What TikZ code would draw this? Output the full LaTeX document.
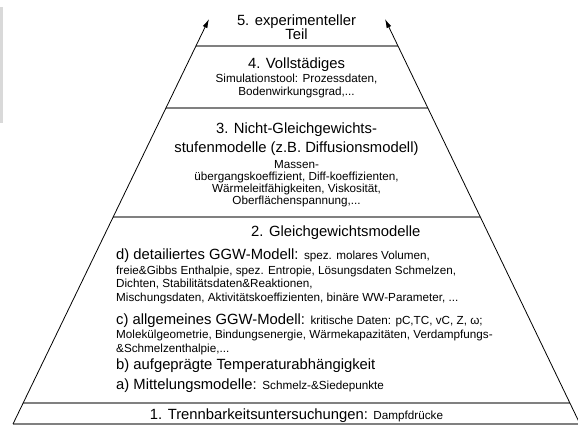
\documentclass[tikz,border=0pt]{standalone}
\usepackage{fontspec}
\setmainfont{Liberation Sans}
\usetikzlibrary{arrows.meta,calc}
\newcommand{\gross}{\fontsize{14.8}{17}\selectfont}
\newcommand{\klein}{\fontsize{11.7}{13.5}\selectfont}

\begin{document}
\begin{tikzpicture}[x=1pt, y=-1pt]
\useasboundingbox (0,0) rectangle (578,426);
\clip (0,0) rectangle (578,426);
\tikzstyle{every node} = [inner sep=0pt]
\tikzstyle{stufe} = [draw=gray, line width=1.5pt]
\tikzstyle{seite} = [draw=black, line width=0.8pt, -{Latex[length=9pt,width=5pt]}]
\fill[gray!30] (0,7) rectangle (3,123);
% Pyramide
\coordinate (bl) at (13,424);
\coordinate (br) at (580,424);
\coordinate (tl) at (209,19);
\coordinate (tr) at (385,19);
\foreach \y in {46,108,217,403}
\draw[stufe] ($(bl)!{(424-\y)/405}!(tl)$) -- ($(br)!{(424-\y)/405}!(tr)$);
\draw[stufe] (bl) -- (br);
\draw[seite] (bl) -- (tl);
\draw[seite] (br) -- (tr);
% 5.
\node[anchor=base, font=\gross] (exp) at (296.5,25) {5. experimenteller};
\node[anchor=base, font=\gross] (teil) at (296.5,39.5) {Teil};
% 4.
\node[anchor=base, font=\gross] (voll) at (296.5,68) {4. Vollstädiges};
\node[anchor=base, font=\klein] (sim) at (296.5,82.4) {Simulationstool: Prozessdaten,};
\node[anchor=base, font=\klein] (boden) at (296.5,95.7) {Bodenwirkungsgrad,...};
% 3.
\node[anchor=base, font=\gross] (ngg) at (296.5,133.7) {3. Nicht-Gleichgewichts-};
\node[anchor=base, font=\gross] (stufen) at (296.5,152.7) {stufenmodelle (z.B. Diffusionsmodell)};
\node[anchor=base, font=\klein] (massen) at (296.5,168.4) {Massen-};
\node[anchor=base, font=\klein] (ueber) at (296.5,180.5) {übergangskoeffizient, Diff-koeffizienten,};
\node[anchor=base, font=\klein] (waerme) at (296.5,192.4) {Wärmeleitfähigkeiten, Viskosität,};
\node[anchor=base, font=\klein] (ober) at (296.5,204.4) {Oberflächenspannung,...};
% 2.
\node[anchor=base west, font=\gross] (ggw) at (251,236) {2. Gleichgewichtsmodelle};
\node[anchor=base west, font=\gross] (dmod) at (116,259.5) {d) detailiertes GGW-Modell: {\klein spez. molares Volumen,}};
\node[anchor=base west, font=\klein] (freie) at (116,274) {freie\&Gibbs Enthalpie, spez. Entropie, Lösungsdaten Schmelzen,};
\node[anchor=base west, font=\klein] (dichten) at (116,287) {Dichten, Stabilitätsdaten\&Reaktionen,};
\node[anchor=base west, font=\klein] (misch) at (116,301) {Mischungsdaten, Aktivitätskoeffizienten, binäre WW-Parameter, ...};
\node[anchor=base west, font=\gross] (cmod) at (116,324) {c) allgemeines GGW-Modell: {\klein kritische Daten: pC,TC, vC, Z, ω;}};
\node[anchor=base west, font=\klein] (molek) at (116,338.5) {Molekülgeometrie, Bindungsenergie, Wärmekapazitäten, Verdampfungs-};
\node[anchor=base west, font=\klein] (schmelz) at (116,352.5) {\&Schmelzenthalpie,...};
\node[anchor=base west, font=\gross] (bmod) at (116,369.5) {b) aufgeprägte Temperaturabhängigkeit};
\node[anchor=base west, font=\gross] (amod) at (116,389.5) {a) Mittelungsmodelle: {\klein Schmelz-\&Siedepunkte}};
% 1.
\node[anchor=base, font=\gross] (trenn) at (296.5,419.5) {1. Trennbarkeitsuntersuchungen: {\klein Dampfdrücke}};
\end{tikzpicture}
\end{document}
